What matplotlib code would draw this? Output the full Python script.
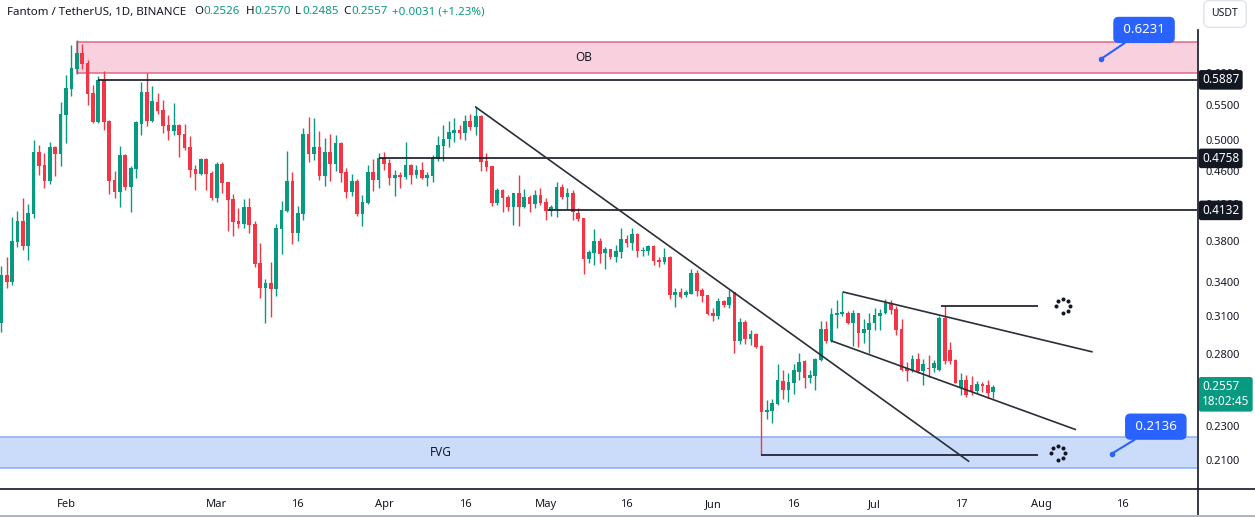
import numpy as np
import pandas as pd
import matplotlib
matplotlib.use('Agg')
import matplotlib.pyplot as plt
from matplotlib.patches import Rectangle
from matplotlib.lines import Line2D
from matplotlib.transforms import blended_transform_factory, offset_copy
from matplotlib.ticker import NullLocator, NullFormatter, FixedLocator

plt.rcParams['font.family'] = ['Noto Sans', 'DejaVu Sans']

# FTM/USDT daily candles, 2023-01-20 .. 2023-07-23
dates = pd.date_range('2023-01-20', '2023-07-23', freq='D')
opens = [0.3044, 0.3467, 0.3402, 0.3792, 0.4014, 0.3751, 0.4091, 0.4842, 0.4673, 0.4475,
         0.4906, 0.4815, 0.5352, 0.5744, 0.6065, 0.6333, 0.6163, 0.5681, 0.5251, 0.5885,
         0.5266, 0.4487, 0.4343, 0.4802, 0.4402, 0.4622, 0.5223, 0.5697, 0.5266, 0.5545,
         0.5425, 0.5208, 0.5125, 0.5208, 0.5083, 0.4906, 0.4622, 0.4560, 0.4750, 0.4573,
         0.4272, 0.4686, 0.4463, 0.4262, 0.4014, 0.3981, 0.4169, 0.3981, 0.3582, 0.3347,
         0.3393, 0.3338, 0.3929, 0.4125, 0.4475, 0.3886, 0.4091, 0.5083, 0.4815, 0.4906,
         0.4535, 0.4842, 0.4686, 0.4960, 0.4585, 0.4343, 0.4475, 0.4091, 0.4215, 0.4585,
         0.4487, 0.4763, 0.4698, 0.4510, 0.4548, 0.4523, 0.4673, 0.4548, 0.4610, 0.4510,
         0.4535, 0.4750, 0.4920, 0.5015, 0.5097, 0.5139, 0.5097, 0.5266, 0.5180, 0.5338,
         0.4724, 0.4660, 0.4215, 0.4367, 0.4285, 0.4169, 0.4331, 0.4169, 0.4284, 0.4204,
         0.4308, 0.4227, 0.4125, 0.4147, 0.4402, 0.4284, 0.4331, 0.4102, 0.4046, 0.3621,
         0.3681, 0.3803, 0.3681, 0.3721, 0.3641, 0.3691, 0.3823, 0.3782, 0.3876, 0.3701,
         0.3701, 0.3751, 0.3611, 0.3591, 0.3641, 0.3284, 0.3311, 0.3284, 0.3293, 0.3486,
         0.3329, 0.3284, 0.3127, 0.3102, 0.3231, 0.3196, 0.3311, 0.2899, 0.3052, 0.2915,
         0.2955, 0.2860, 0.2391, 0.2398, 0.2443, 0.2601, 0.2538, 0.2587, 0.2666, 0.2746,
         0.2622, 0.2637, 0.2753, 0.2995, 0.2899, 0.3110, 0.3119, 0.3127, 0.3044, 0.3127,
         0.2963, 0.2987, 0.3044, 0.3102, 0.3127, 0.3214, 0.3161, 0.2995, 0.2694, 0.2673,
         0.2761, 0.2673, 0.2694, 0.2694, 0.2680, 0.3086, 0.2829, 0.2753, 0.2552, 0.2608,
         0.2573, 0.2531, 0.2580, 0.2573, 0.2526]
highs = [0.3552, 0.3641, 0.4058, 0.4125, 0.4272, 0.4204, 0.5001, 0.4933, 0.4828, 0.4974,
         0.4920, 0.5545, 0.5965, 0.6472, 0.6560, 0.6489, 0.6214, 0.5805, 0.5949, 0.6031,
         0.5280, 0.4598, 0.4920, 0.4815, 0.4660, 0.5266, 0.5853, 0.5998, 0.5789, 0.5681,
         0.5575, 0.5352, 0.5530, 0.5223, 0.5223, 0.5055, 0.4673, 0.4763, 0.4763, 0.4598,
         0.4711, 0.4711, 0.4463, 0.4320, 0.4158, 0.4262, 0.4272, 0.4014, 0.3782, 0.3430,
         0.3591, 0.3981, 0.4239, 0.4855, 0.4585, 0.4181, 0.5167, 0.5323, 0.5309, 0.5125,
         0.5028, 0.5083, 0.5069, 0.4974, 0.4634, 0.4560, 0.4499, 0.4308, 0.4673, 0.4750,
         0.4828, 0.4842, 0.4750, 0.4610, 0.4585, 0.4974, 0.4686, 0.4673, 0.4711, 0.4585,
         0.4802, 0.5055, 0.5208, 0.5266, 0.5309, 0.5208, 0.5352, 0.5366, 0.5469, 0.5345,
         0.4828, 0.4665, 0.4390, 0.4379, 0.4308, 0.4335, 0.4548, 0.4379, 0.4308, 0.4367,
         0.4390, 0.4272, 0.4192, 0.4463, 0.4438, 0.4390, 0.4367, 0.4158, 0.4046, 0.3711,
         0.3929, 0.3834, 0.3741, 0.3721, 0.3762, 0.3938, 0.3865, 0.3938, 0.3886, 0.3741,
         0.3762, 0.3762, 0.3641, 0.3731, 0.3651, 0.3347, 0.3347, 0.3329, 0.3525, 0.3515,
         0.3347, 0.3284, 0.3170, 0.3257, 0.3240, 0.3329, 0.3311, 0.3086, 0.3069, 0.2987,
         0.2960, 0.2865, 0.2470, 0.2477, 0.2724, 0.2680, 0.2658, 0.2724, 0.2806, 0.2753,
         0.2680, 0.2768, 0.3061, 0.3061, 0.3170, 0.3240, 0.3311, 0.3144, 0.3153, 0.3130,
         0.3077, 0.3127, 0.3170, 0.3161, 0.3249, 0.3240, 0.3187, 0.3077, 0.2738, 0.2791,
         0.2806, 0.2761, 0.2791, 0.2753, 0.3102, 0.3187, 0.2891, 0.2761, 0.2658, 0.2644,
         0.2637, 0.2601, 0.2594, 0.2608, 0.2570]
lows = [0.2971, 0.3347, 0.3375, 0.3741, 0.3711, 0.3611, 0.4046, 0.4548, 0.4390, 0.4438,
        0.4535, 0.4660, 0.4960, 0.5635, 0.5981, 0.6063, 0.5499, 0.5237, 0.5237, 0.5139,
        0.4320, 0.4272, 0.4169, 0.4367, 0.4114, 0.4510, 0.5069, 0.5194, 0.5251, 0.5366,
        0.5097, 0.5001, 0.5069, 0.4776, 0.4868, 0.4523, 0.4367, 0.4548, 0.4367, 0.4250,
        0.4227, 0.4331, 0.3907, 0.3854, 0.3938, 0.3938, 0.3886, 0.3542, 0.3257, 0.3044,
        0.3093, 0.3275, 0.3671, 0.4114, 0.3772, 0.3803, 0.4025, 0.4711, 0.4737, 0.4487,
        0.4414, 0.4475, 0.4598, 0.4463, 0.4272, 0.4296, 0.4069, 0.3960, 0.4204, 0.4355,
        0.4390, 0.4610, 0.4426, 0.4296, 0.4390, 0.4499, 0.4438, 0.4510, 0.4505, 0.4414,
        0.4463, 0.4724, 0.4724, 0.4906, 0.4974, 0.5015, 0.5001, 0.5139, 0.5069, 0.4598,
        0.4598, 0.4181, 0.4192, 0.4114, 0.4125, 0.3970, 0.3960, 0.4160, 0.4114, 0.4158,
        0.4192, 0.4025, 0.4069, 0.4058, 0.4262, 0.4147, 0.4025, 0.4014, 0.3477, 0.3582,
        0.3562, 0.3582, 0.3525, 0.3621, 0.3591, 0.3631, 0.3741, 0.3711, 0.3641, 0.3651,
        0.3661, 0.3562, 0.3542, 0.3572, 0.3249, 0.3179, 0.3262, 0.3266, 0.3290, 0.3275,
        0.3222, 0.3110, 0.3061, 0.3077, 0.3179, 0.3170, 0.2806, 0.2876, 0.2876, 0.2868,
        0.2845, 0.2128, 0.2346, 0.2321, 0.2437, 0.2477, 0.2457, 0.2511, 0.2608, 0.2552,
        0.2587, 0.2538, 0.2746, 0.2883, 0.2891, 0.3003, 0.3102, 0.3036, 0.2860, 0.2852,
        0.2883, 0.2806, 0.2987, 0.2987, 0.3119, 0.3119, 0.2947, 0.2675, 0.2601, 0.2666,
        0.2658, 0.2573, 0.2629, 0.2666, 0.2673, 0.2724, 0.2724, 0.2585, 0.2504, 0.2490,
        0.2504, 0.2518, 0.2525, 0.2484, 0.2485]
closes = [0.3467, 0.3402, 0.3803, 0.4014, 0.3751, 0.4102, 0.4842, 0.4660, 0.4475, 0.4906,
          0.4815, 0.5366, 0.5759, 0.6080, 0.6333, 0.6147, 0.5666, 0.5251, 0.5885, 0.5251,
          0.4475, 0.4343, 0.4802, 0.4402, 0.4634, 0.5251, 0.5697, 0.5266, 0.5560, 0.5410,
          0.5194, 0.5125, 0.5208, 0.5069, 0.4893, 0.4610, 0.4560, 0.4750, 0.4560, 0.4272,
          0.4686, 0.4451, 0.4250, 0.4003, 0.3981, 0.4169, 0.3970, 0.3572, 0.3347, 0.3393,
          0.3338, 0.3938, 0.4136, 0.4475, 0.3886, 0.4102, 0.5083, 0.4815, 0.4906, 0.4535,
          0.4842, 0.4686, 0.4960, 0.4573, 0.4343, 0.4475, 0.4091, 0.4227, 0.4585, 0.4487,
          0.4763, 0.4686, 0.4510, 0.4548, 0.4523, 0.4673, 0.4548, 0.4610, 0.4510, 0.4548,
          0.4763, 0.4933, 0.5015, 0.5111, 0.5139, 0.5097, 0.5266, 0.5180, 0.5338, 0.4711,
          0.4647, 0.4215, 0.4367, 0.4272, 0.4169, 0.4331, 0.4169, 0.4284, 0.4204, 0.4308,
          0.4215, 0.4125, 0.4169, 0.4402, 0.4284, 0.4331, 0.4114, 0.4036, 0.3621, 0.3691,
          0.3803, 0.3671, 0.3721, 0.3641, 0.3701, 0.3823, 0.3782, 0.3876, 0.3701, 0.3711,
          0.3751, 0.3601, 0.3591, 0.3641, 0.3284, 0.3311, 0.3266, 0.3311, 0.3486, 0.3320,
          0.3275, 0.3119, 0.3102, 0.3231, 0.3196, 0.3266, 0.2899, 0.3052, 0.2915, 0.2955,
          0.2852, 0.2391, 0.2404, 0.2450, 0.2608, 0.2538, 0.2594, 0.2680, 0.2738, 0.2622,
          0.2644, 0.2761, 0.2995, 0.2899, 0.3119, 0.3127, 0.3136, 0.3044, 0.3127, 0.2963,
          0.2995, 0.3044, 0.3110, 0.3127, 0.3214, 0.3153, 0.2987, 0.2680, 0.2673, 0.2761,
          0.2673, 0.2724, 0.2687, 0.2731, 0.3086, 0.2746, 0.2746, 0.2587, 0.2608, 0.2504,
          0.2531, 0.2580, 0.2566, 0.2518, 0.2557]

# drawings on the chart (anchor dates + prices)
ob_zone = ('2023-02-03', 0.600, 0.652)
fvg_zone = ('2023-01-10', 0.2054, 0.2232)
levels = [('2023-02-07', 0.5887), ('2023-03-31', 0.4758), ('2023-05-01 12:00', 0.4132)]
short_levels = [('2023-07-13 06:00', '2023-07-31 06:00', 0.3187), ('2023-06-10', '2023-07-31 06:00', 0.2128)]
trendlines = [(('2023-04-18', 0.5469), ('2023-07-18 10:00', 0.2093)),
              (('2023-06-25 05:00', 0.3311), ('2023-08-10 07:00', 0.2816)),
              (('2023-06-23 02:00', 0.2899), ('2023-08-07 05:00', 0.2281))]
notes = [('2023-08-12', 0.6231), ('2023-08-14', 0.2136)]
spinners = [('2023-08-05', 0.3187), ('2023-08-04', 0.2138)]
price_ticks = [0.60, 0.55, 0.50, 0.46, 0.42, 0.38, 0.34, 0.31, 0.28, 0.23, 0.21]
tagged_levels = [0.5887, 0.4758, 0.4132]
x_labels = [('2023-02-01', 'Feb'), ('2023-03-01', 'Mar'), ('2023-03-16', '16'), ('2023-04-01', 'Apr'),
            ('2023-04-16', '16'), ('2023-05-01', 'May'), ('2023-05-16', '16'), ('2023-06-01', 'Jun'),
            ('2023-06-16', '16'), ('2023-07-01', 'Jul'), ('2023-07-17', '17'), ('2023-08-01', 'Aug'),
            ('2023-08-16', '16')]

t0 = dates[0]
def xi(d):
    return (pd.Timestamp(d) - t0) / pd.Timedelta(days=1)

UP = '#089981'
DOWN = '#f23645'
INK = '#131722'
BLUE = '#2962ff'

W, H = 1255, 517
fig = plt.figure(figsize=(W / 100, H / 100), dpi=100)
ax = fig.add_axes([0, 29 / H, 1197 / W, 488 / H])
ax.set_yscale('log')
ax.set_xlim(-0.24, 221.8)
ax.set_ylim(0.1946, 0.7311)

o = np.array(opens); h = np.array(highs); l = np.array(lows); c = np.array(closes)
x = np.arange(len(dates))
col = np.where(c >= o, UP, DOWN)
lo_b = np.minimum(o, c)
hi_b = np.maximum(np.maximum(o, c), lo_b * 1.004)
ax.vlines(x, l, h, colors=col, lw=1.0, zorder=3)
ax.bar(x, hi_b - lo_b, bottom=lo_b, width=0.68, color=col, linewidth=0, zorder=4)

# zones
d0, b, t = ob_zone
ax.add_patch(Rectangle((xi(d0), b), 400, t - b, fc='#f9d1de', ec='#e3708f', lw=1.2, zorder=1))
ax.text(108, np.sqrt(b * t), 'OB', ha='center', va='center', fontsize=8.5, color=INK, zorder=2)
d0, b, t = fvg_zone
ax.add_patch(Rectangle((xi(d0), b), 400, t - b, fc='#cadcf9', ec='#8fb3f3', lw=1.2, zorder=1))
ax.text(81.6, np.sqrt(b * t), 'FVG', ha='center', va='center', fontsize=8.5, color=INK, zorder=2)

# levels and lines
for d, p in levels:
    ax.hlines(p, xi(d), 400, color=INK, lw=1.2, zorder=5)
for d1, d2, p in short_levels:
    ax.hlines(p, xi(d1), xi(d2), color=INK, lw=1.2, zorder=5)
for (d1, p1), (d2, p2) in trendlines:
    ax.plot([xi(d1), xi(d2)], [p1, p2], color='#2a2e39', lw=1.2, zorder=5)

# price notes
for (d, p), (dx, dy) in zip(notes, [(43, 29), (44, 27)]):
    ax.plot(xi(d), p, 'o', ms=3, color=BLUE, zorder=6)
    ax.annotate(f' {p:.4f} ', xy=(xi(d), p), xytext=(dx, dy), textcoords='offset pixels',
                ha='center', va='center', color='white', fontsize=9.5, fontweight='bold',
                bbox=dict(boxstyle='round,pad=0.45,rounding_size=0.35', fc=BLUE, ec=BLUE),
                arrowprops=dict(arrowstyle='-', color=BLUE, lw=1.5, shrinkA=0, shrinkB=0),
                zorder=7)

# spinner icons
for d, p in spinners:
    for k in range(8):
        if k == 5:
            continue
        a = np.pi / 2 - k * np.pi / 4
        tr = offset_copy(ax.transData, fig=fig, x=7 * np.cos(a), y=7 * np.sin(a), units='dots')
        ax.plot(xi(d), p, 'o', ms=1.9, color=INK, transform=tr, zorder=6)

# axes styling
for s in ax.spines.values():
    s.set_visible(False)
ax.yaxis.tick_right()
ax.yaxis.set_major_locator(FixedLocator(price_ticks))
ax.set_yticklabels([f'{p:.4f}' for p in price_ticks])
ax.yaxis.set_minor_locator(NullLocator())
ax.yaxis.set_minor_formatter(NullFormatter())
ax.tick_params(axis='y', length=0, pad=6, labelsize=8, labelcolor=INK)
ax.set_xticks([xi(d) for d, _ in x_labels])
ax.set_xticklabels([s for _, s in x_labels])
ax.tick_params(axis='x', length=0, pad=8, labelsize=8, labelcolor=INK)

tr = blended_transform_factory(ax.transAxes, ax.transData)
for p in tagged_levels:
    ax.text(1.0 + 5 / 1197, p, f'{p:.4f}', transform=tr, ha='left', va='center', fontsize=8.5,
            color='white', clip_on=False, zorder=10,
            bbox=dict(boxstyle='round,pad=0.22,rounding_size=0.15', fc=INK, ec=INK))
ax.annotate(f'{closes[-1]:.4f}\n18:02:45', xy=(1.0, closes[-1]), xycoords=tr, xytext=(5, 7),
            textcoords='offset pixels', ha='left', va='top', fontsize=8.5, color='white',
            linespacing=1.2, annotation_clip=False, zorder=10,
            bbox=dict(boxstyle='round,pad=0.22,rounding_size=0.15', fc=UP, ec=UP))

# frame lines
fig.add_artist(Line2D([0, 1], [1 - 488.5 / H] * 2, color=INK, lw=1.2, transform=fig.transFigure))
fig.add_artist(Line2D([1197.5 / W] * 2, [0, 1 - 30 / H], color=INK, lw=1.2, transform=fig.transFigure))
fig.add_artist(Line2D([0, 1], [1.5 / H] * 2, color='#b2b5be', lw=1.5, transform=fig.transFigure))

# USDT box
fig.text(1225 / W, 1 - 14 / H, 'USDT', ha='center', va='center', fontsize=7.5, color=INK,
         bbox=dict(boxstyle='round,pad=0.75,rounding_size=0.5', fc='white', ec='#e0e3eb'))

# header
hy = 1 - 12 / H
fig.text(7 / W, hy, 'Fantom / TetherUS, 1D, BINANCE', ha='left', va='center', fontsize=8.3, color=INK)
parts = [(194, 'O', INK), (203, '0.2526', UP), (246, 'H', INK), (254, '0.2570', UP),
         (295, 'L', INK), (302, '0.2485', UP), (343, 'C', INK), (351, '0.2557', UP),
         (392, '+0.0031 (+1.23%)', UP)]
for px, s, cc in parts:
    fig.text(px / W, hy, s, ha='left', va='center', fontsize=8.3, color=cc)

fig.savefig('out.png', dpi=100)
